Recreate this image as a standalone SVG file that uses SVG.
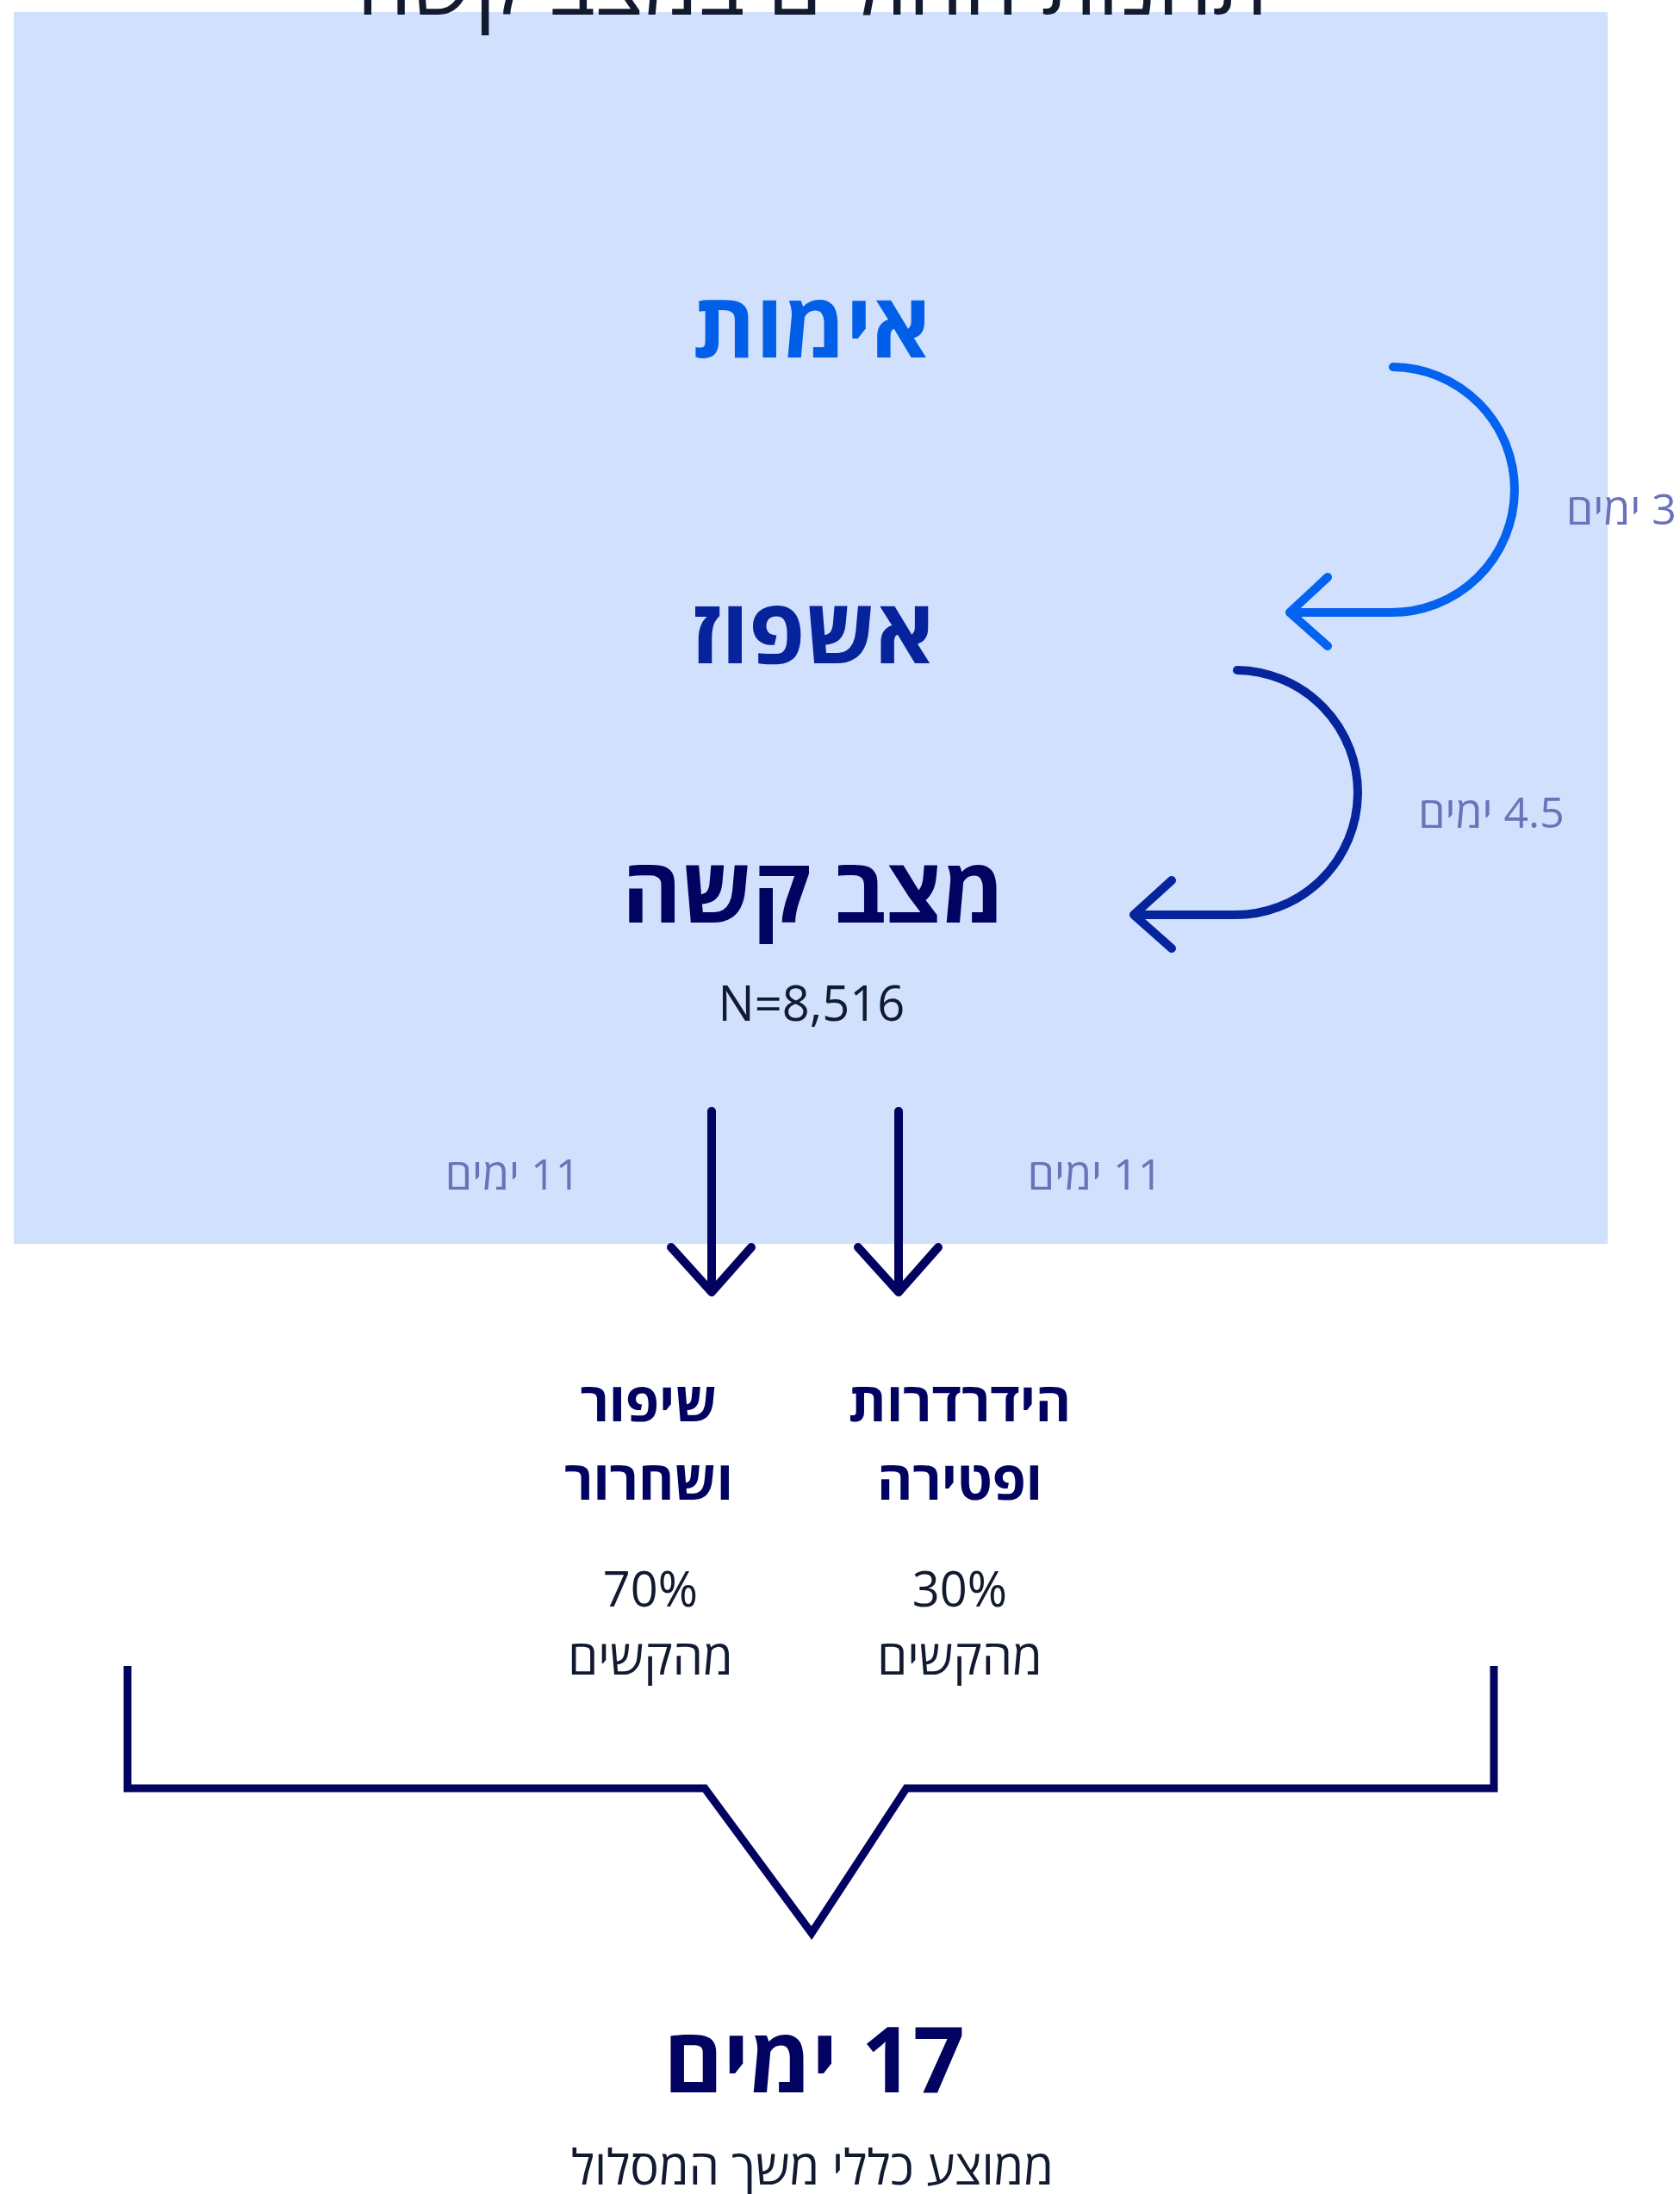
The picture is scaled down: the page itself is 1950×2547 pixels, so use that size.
<svg xmlns="http://www.w3.org/2000/svg" width="1950" height="2547" viewBox="0 0 1950 2547">
<style>
text{font-family:"Open Sans","Noto Sans","DejaVu Sans",sans-serif;text-anchor:middle}
.he{direction:rtl;unicode-bidi:embed}
.big{font-size:105px;font-weight:700}
.lbl{font-size:63px;font-weight:700;fill:#020260}
.reg{font-size:56px;fill:#121a2f}
.days{font-size:50px;fill:#6a72b8}
.conn{fill:none;stroke-width:10;stroke-linecap:round;stroke-linejoin:round}
</style>
<rect width="1950" height="2547" fill="#ffffff"/>
<rect id="panel" x="16" y="14" width="1850" height="1430" fill="#d0e0fd"/>
<g id="title"><text class="he" x="943" y="17" style="font-size:102px;fill:#121a2f">תחנות החולים במצב קשה</text></g>
<g id="node-imut"><text class="he big" x="942" y="415" fill="#015ee9">אימות</text></g>
<g id="node-ishpuz"><text class="he big" x="943" y="770" fill="#06239b">אשפוז</text></g>
<g id="node-severe"><text class="he big" x="944" y="1071" fill="#020260">מצב קשה</text><text x="942" y="1185" class="reg">N=8,516</text></g>
<g id="node-improve"><text class="he lbl" x="753" y="1650">שיפור</text><text class="he lbl" x="753" y="1741">ושחרור</text><text class="reg" x="755" y="1865">70%</text><text class="he reg" x="755" y="1944">מהקשים</text></g>
<g id="node-death"><text class="he lbl" x="1114" y="1650">הידרדרות</text><text class="he lbl" x="1114" y="1741">ופטירה</text><text class="reg" x="1114" y="1865">30%</text><text class="he reg" x="1114" y="1944">מהקשים</text></g>
<g id="node-total"><text class="he" x="945" y="2429" style="font-size:105px;font-weight:700;fill:#020260">17 ימים</text><text class="he reg" x="943" y="2536">ממוצע כללי משך המסלול</text></g>
<g id="connectors">
<path class="conn" stroke="#0462f0" d="M1617 426 A142 142 0 0 1 1614 711 L1497 711 M1541 670 L1497 711 L1541 750"/>
<path class="conn" stroke="#06249b" d="M1436 778 A142 142 0 0 1 1432 1062 L1316 1062 M1360 1022 L1316 1062 L1360 1101"/>
<path class="conn" stroke="#020260" d="M826 1290 L826 1500 M779 1448 L826 1500 L872 1448"/>
<path class="conn" stroke="#020260" d="M1043 1290 L1043 1500 M996 1448 L1043 1500 L1089 1448"/>
<path fill="none" stroke="#020260" stroke-width="9" d="M148 1934 L148 2076 L818 2076 L942 2244 L1052 2076 L1734 2076 L1734 1934"/>
<text class="he days" x="1882" y="609">3 ימים</text>
<text class="he days" x="1731" y="961">4.5 ימים</text>
<text class="he days" x="595" y="1381">11 ימים</text>
<text class="he days" x="1271" y="1381">11 ימים</text>
</g>
</svg>
